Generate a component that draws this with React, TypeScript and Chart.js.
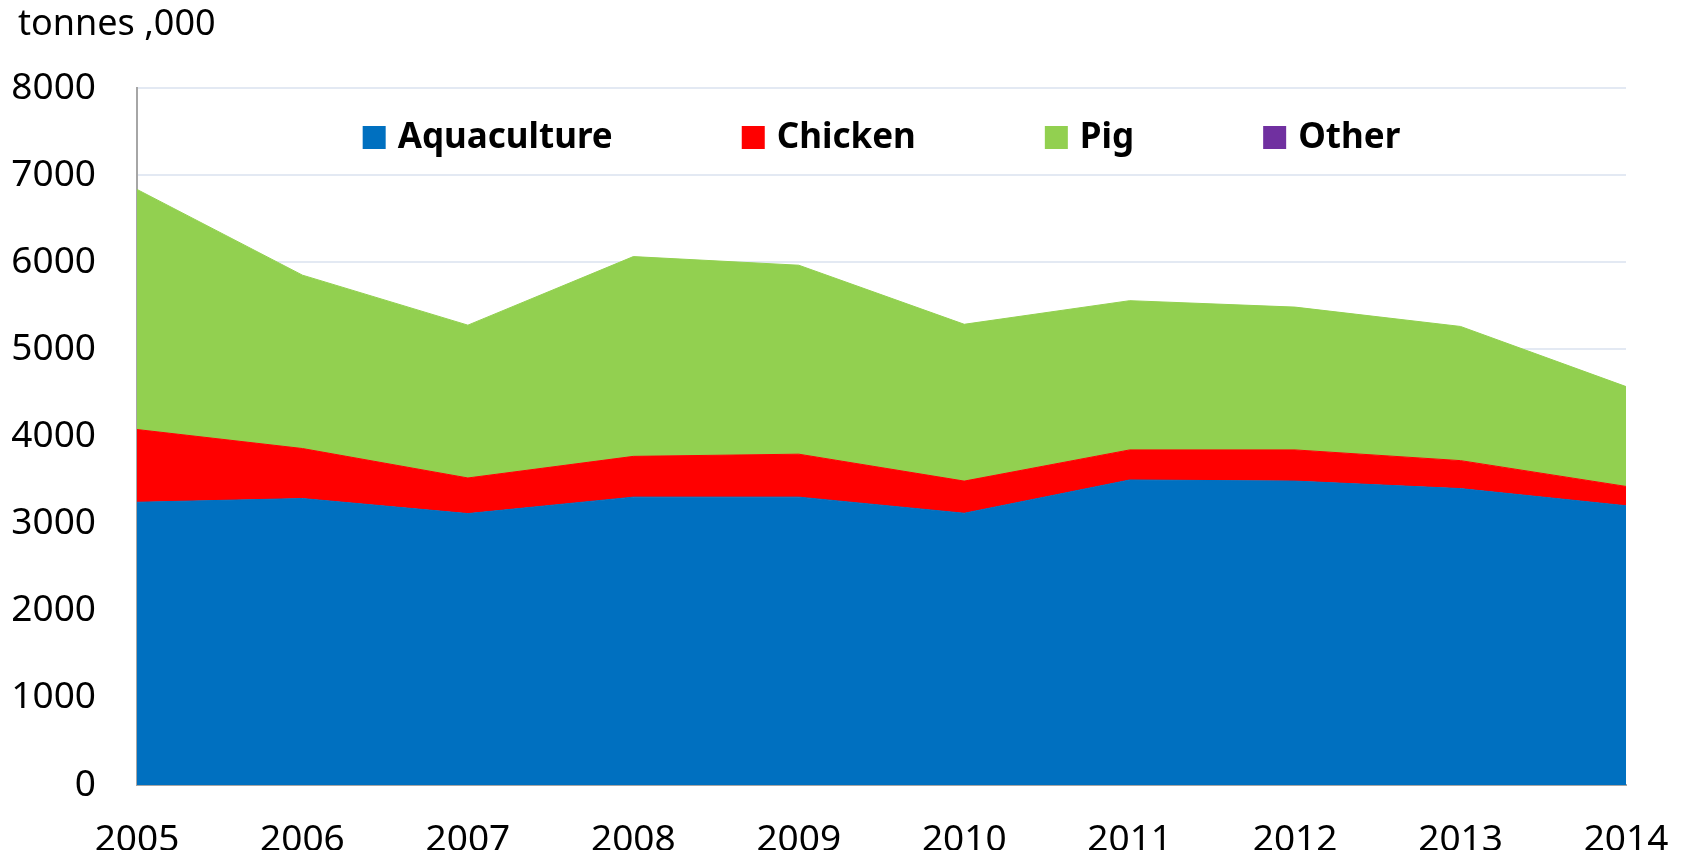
import React, { useEffect, useRef } from "react";
import { Chart, registerables } from "chart.js";

Chart.register(...registerables);

const years = ["2005", "2006", "2007", "2008", "2009", "2010", "2011", "2012", "2013", "2014"];
const aquaculture = [3245, 3288, 3115, 3304, 3304, 3119, 3501, 3488, 3402, 3205];
const chicken = [835, 574, 409, 468, 493, 369, 345, 358, 321, 222];
const pig = [2756, 1990, 1754, 2293, 2169, 1800, 1713, 1639, 1540, 1146];
const other = [0, 0, 0, 0, 0, 0, 0, 0, 0, 0];
const seriesNames = ["Aquaculture", "Chicken", "Pig", "Other"];
const seriesColors = ["#0070C0", "#FF0000", "#92D050", "#7030A0"];
const yMin = 0;
const yMax = 8000;
const yStep = 1000;
const unitLabel = "tonnes ,000";

const W = 1667;
const H = 842;

const overlayPlugin = {
  id: "overlay",
  afterDraw(chart: any) {
    const ctx = chart.ctx;
    const area = chart.chartArea;
    ctx.save();
    ctx.fillStyle = "#000";
    ctx.font = "36px 'Noto Sans'";
    ctx.textAlign = "left";
    ctx.textBaseline = "alphabetic";
    ctx.fillText(unitLabel, 10, 27);

    ctx.font = "bold 35px 'Noto Sans'";
    const box = 23;
    const gap = 12;
    const itemGap = 129;
    const items = chart.data.datasets.map((ds: any) => ({
      text: ds.label,
      color: ds.backgroundColor,
      w: ctx.measureText(ds.label).width,
    }));
    const total =
      items.reduce((s: number, it: any) => s + box + gap + it.w, 0) + itemGap * (items.length - 1);
    let x = (area.left + area.right) / 2 - total / 2;
    const cy = area.top + 49.5;
    ctx.textBaseline = "middle";
    for (const it of items) {
      ctx.fillStyle = it.color;
      ctx.fillRect(x, cy - box / 2, box, box);
      ctx.fillStyle = "#000";
      ctx.fillText(it.text, x + box + gap, cy + 1);
      x += box + gap + it.w + itemGap;
    }
    ctx.restore();
  },
};

export default function App() {
  const ref = useRef<HTMLCanvasElement | null>(null);

  useEffect(() => {
    if (!ref.current) return;
    Chart.defaults.font.family = "'Noto Sans'";
    const seriesData = [aquaculture, chicken, pig, other];
    const chart = new Chart(ref.current, {
      type: "line",
      data: {
        labels: years,
        datasets: seriesNames.map((name, i) => ({
          label: name,
          data: seriesData[i],
          backgroundColor: seriesColors[i],
          borderColor: seriesColors[i],
          borderWidth: i === 3 ? 0 : 1,
          pointRadius: 0,
          tension: 0,
          fill: i === 0 ? "origin" : "-1",
        })),
      },
      options: {
        responsive: false,
        animation: false,
        layout: { padding: { top: 80, right: 49, left: 0, bottom: 0 } },
        plugins: {
          legend: { display: false },
          tooltip: { enabled: false },
          title: { display: false },
        },
        scales: {
          x: {
            offset: false,
            grid: { display: false, drawTicks: false },
            border: { display: true, color: "#a6a6a6", width: 2 },
            ticks: {
              color: "#000",
              font: { size: 37 },
              padding: 33,
              maxRotation: 0,
              autoSkip: false,
            },
            afterFit(scale: any) {
              scale.height = 65;
              scale.paddingLeft = 0;
              scale.paddingRight = 0;
            },
          },
          y: {
            stacked: true,
            min: yMin,
            max: yMax,
            grid: { color: "#e3e9f3", lineWidth: 2, drawTicks: false },
            border: { display: true, color: "#a6a6a6", width: 2 },
            ticks: {
              stepSize: yStep,
              color: "#000",
              font: { size: 37 },
              padding: 41,
              callback: (v: any) => String(v),
            },
            afterFit(scale: any) {
              scale.width = 129;
            },
          },
        },
      },
      plugins: [overlayPlugin],
    });
    return () => chart.destroy();
  }, []);

  return (
    <div style={{ width: W, height: H }}>
      <canvas ref={ref} width={W} height={H} style={{ display: "block", width: W, height: H }} />
    </div>
  );
}
